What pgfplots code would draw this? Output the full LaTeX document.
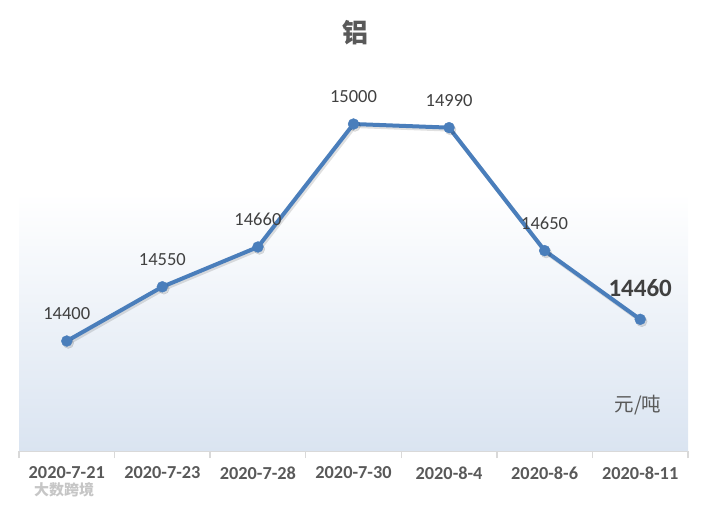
\documentclass[border=0pt]{standalone}
\usepackage{pgfplots}
\pgfplotsset{compat=1.18}
\usepackage{fontspec}
\setmainfont{Carlito}
\newfontfamily\cjk{Noto Sans CJK SC}
\definecolor{lineblue}{RGB}{74,126,187}
\definecolor{bgblue}{RGB}{218,228,241}
\definecolor{txtgray}{RGB}{89,89,89}
\definecolor{lblgray}{RGB}{64,64,64}
\definecolor{axgray}{RGB}{217,217,217}

\begin{document}
\begin{tikzpicture}
  \useasboundingbox (0,0) rectangle (710bp,507bp);
  \begin{axis}[
      at={(19bp,56bp)}, anchor=south west,
      scale only axis,
      width=669bp, height=391bp,
      xmin=-0.5, xmax=6.5,
      ymin=14096, ymax=15177,
      hide y axis,
      axis x line*=bottom,
      x axis line style={axgray, line width=1.5bp},
      xtick={0,...,6},
      xticklabels={2020-7-21,2020-7-23,2020-7-28,2020-7-30,2020-8-4,2020-8-6,2020-8-11},
      major x tick style={draw=none},
      minor xtick={-0.5,0.5,...,6.5},
      minor x tick style={axgray, line width=1.5bp},
      minor tick length=7bp,
      tick align=outside,
      x tick label style={font=\fontsize{18.3bp}{21bp}\selectfont\bfseries, text=txtgray, yshift=-8bp},
      /pgf/number format/1000 sep={},
      /pgf/number format/assume math mode=true,
      clip=false,
    ]
    \fill[top color=white, bottom color=bgblue] (rel axis cs:0,0) rectangle (rel axis cs:1,0.66);
    % soft shadow under the line
    \addplot[black, opacity=0.12, line width=4bp, mark=*, mark size=5.5bp,
      mark options={line width=0.3bp}, shift={(1.5bp,-2bp)}] coordinates {
      (0,14400) (1,14550) (2,14660) (3,15000) (4,14990) (5,14650) (6,14460)
    };
    \addplot[lineblue, line width=4bp, mark=*, mark size=5.5bp,
      mark options={fill=lineblue, line width=0.3bp}] coordinates {
      (0,14400) (1,14550) (2,14660) (3,15000) (4,14990) (5,14650) (6,14460)
    };
    % data labels
    \addplot[draw=none, mark=none, nodes near coords,
      every node near coord/.style={anchor=south, inner sep=0pt, yshift=21bp,
        font=\fontsize{18.5bp}{22bp}\selectfont, text=lblgray}] coordinates {
      (0,14400) (1,14550) (2,14660) (3,15000) (4,14990) (5,14650)
    };
    \addplot[draw=none, mark=none, nodes near coords,
      every node near coord/.style={anchor=south, inner sep=0pt, yshift=22bp,
        font=\fontsize{25bp}{28bp}\selectfont\bfseries, text=lblgray}] coordinates {
      (6,14460)
    };
  \end{axis}
  \node[font=\cjk\bfseries\fontsize{26bp}{30bp}\selectfont, text=txtgray] at (355bp,474bp) {铝};
  \node[font=\cjk\fontsize{19.5bp}{23bp}\selectfont, text=txtgray] at (638bp,102bp) {元/吨};
  \node[font=\cjk\bfseries\fontsize{15bp}{18bp}\selectfont, text=gray!45] at (64bp,17bp) {大数跨境};
\end{tikzpicture}
\end{document}
